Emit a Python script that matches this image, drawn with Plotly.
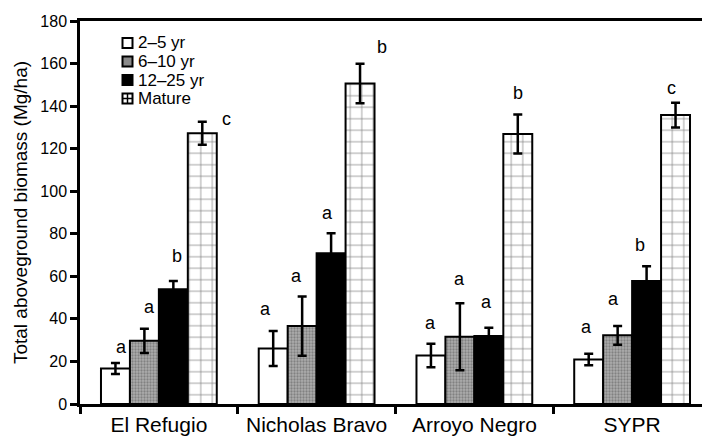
import plotly.graph_objects as go

# ---- data ----
sites = ["El Refugio", "Nicholas Bravo", "Arroyo Negro", "SYPR"]
series_names = ["2–5 yr", "6–10 yr", "12–25 yr", "Mature"]

biomass_2_5 = [16.7, 26.1, 22.8, 20.9]
err_2_5 = [2.6, 8.2, 5.5, 2.7]
biomass_6_10 = [29.7, 36.6, 31.6, 32.3]
err_6_10 = [5.7, 13.9, 15.7, 4.4]
biomass_12_25 = [53.9, 70.8, 32.0, 57.8]
err_12_25 = [3.9, 9.4, 3.8, 6.9]
biomass_mature = [127.2, 150.6, 126.9, 135.8]
err_mature = [5.4, 9.3, 9.2, 5.8]

letters_2_5 = ["a", "a", "a", "a"]
letters_6_10 = ["a", "a", "a", "a"]
letters_12_25 = ["b", "a", "a", "b"]
letters_mature = ["c", "b", "b", "c"]

y_ticks = [0, 20, 40, 60, 80, 100, 120, 140, 160, 180]

# ---- style ----
FONT = "Liberation Sans, Arial, sans-serif"
values = [biomass_2_5, biomass_6_10, biomass_12_25, biomass_mature]
errors = [err_2_5, err_6_10, err_12_25, err_mature]
letters = [letters_2_5, letters_6_10, letters_12_25, letters_mature]

patterns = [
    dict(shape="", bgcolor="white"),
    dict(shape=".", fgcolor="#555555", bgcolor="#adadad", size=3, solidity=0.45),
    dict(shape="", bgcolor="black"),
    dict(shape="+", fgcolor="black", bgcolor="white", size=11.5, solidity=0.12),
]
colors = ["white", "#8a8a8a", "black", "white"]

# label nudges (px) per series per site: (dx, dy)
label_nudge = [
    [(6, 16), (-8, 22), (0, 21), (-2, 27)],
    [(5, 22), (-6, 21), (0, 24), (-4, 27)],
    [(4, 25), (-4, 20), (-2, 26), (-7, 21)],
    [(24, 3), (22, 17), (0, 21), (-4, 15)],
]

W, H = 702, 438
M_L, M_R, M_T, M_B = 80, 0, 21, 34
plot_w = W - M_L - M_R
plot_h = H - M_T - M_B

fig = go.Figure()
for i, name in enumerate(series_names):
    fig.add_trace(go.Bar(
        x=sites, y=values[i], name=name, showlegend=False,
        marker=dict(color=colors[i], pattern=patterns[i],
                    line=dict(color="black", width=2)),
        error_y=dict(type="data", array=errors[i], visible=True,
                     color="black", thickness=2.5, width=4.5),
    ))

x_min, x_max = -0.5, 3.443
cat_px = plot_w / (x_max - x_min)
bargap = 0.266
bar_w = cat_px * (1 - bargap) / 4

annotations = []
for i in range(4):
    off = (i - 1.5) * bar_w
    for j, site in enumerate(sites):
        dx, dy = label_nudge[i][j]
        annotations.append(dict(
            x=site, y=values[i][j] + errors[i][j], text=letters[i][j],
            xref="x", yref="y", showarrow=False,
            xshift=off + dx, yshift=dy,
            font=dict(family=FONT, size=18, color="black"),
            xanchor="center", yanchor="middle",
        ))

# ---- hand-drawn legend (paper coordinates from pixel layout) ----
def px_x(p):
    return (p - M_L) / plot_w

def px_y(p):
    return (H - M_B - p) / plot_h

shapes = []
leg_box_x = 122.5
leg_box = 10
leg_text_x = 136
leg_rows = [43, 61.5, 80, 98.5]
box_fill = ["white", "#8a8a8a", "black", "white"]
for k, name in enumerate(series_names):
    cy = leg_rows[k]
    x0, x1 = leg_box_x, leg_box_x + leg_box
    y0, y1 = cy - leg_box / 2, cy + leg_box / 2
    shapes.append(dict(type="rect", xref="paper", yref="paper",
                       x0=px_x(x0), x1=px_x(x1), y0=px_y(y1), y1=px_y(y0),
                       fillcolor=box_fill[k], line=dict(color="black", width=2),
                       layer="above"))
    if name == "Mature":
        mx = (x0 + x1) / 2
        shapes.append(dict(type="line", xref="paper", yref="paper",
                           x0=px_x(mx), x1=px_x(mx), y0=px_y(y1), y1=px_y(y0),
                           line=dict(color="black", width=1.5), layer="above"))
        shapes.append(dict(type="line", xref="paper", yref="paper",
                           x0=px_x(x0), x1=px_x(x1), y0=px_y(cy), y1=px_y(cy),
                           line=dict(color="black", width=1.5), layer="above"))
    annotations.append(dict(
        x=px_x(leg_text_x), y=px_y(cy), xref="paper", yref="paper",
        text=name, showarrow=False, xanchor="left", yanchor="middle",
        font=dict(family=FONT, size=17, color="black"),
    ))

fig.update_layout(
    width=W, height=H,
    margin=dict(l=M_L, r=M_R, t=M_T, b=M_B, autoexpand=False),
    paper_bgcolor="white", plot_bgcolor="white",
    barmode="group", bargap=bargap, bargroupgap=0,
    font=dict(family=FONT, size=16, color="black"),
    showlegend=False,
    annotations=annotations,
    shapes=shapes,
)

fig.update_xaxes(
    type="category", range=[x_min, x_max], automargin=False,
    showline=True, linecolor="black", linewidth=2.5, mirror=True,
    ticks="outside", tickson="boundaries", ticklen=7, tickwidth=2.5, tickcolor="black",
    tickfont=dict(family=FONT, size=21, color="black"),
    showgrid=False, zeroline=False,
)
fig.update_yaxes(
    range=[0, 180], tickvals=y_ticks, automargin=False,
    showline=True, linecolor="black", linewidth=2.5,
    ticks="outside", ticklen=7, tickwidth=2.5, tickcolor="black",
    tickfont=dict(family=FONT, size=16, color="black"),
    showgrid=False, zeroline=False,
    title=dict(text="Total aboveground biomass (Mg/ha)",
               font=dict(family=FONT, size=19, color="black"), standoff=8),
)

fig.write_html("out.html", config={"displayModeBar": False},
               post_script="document.body.style.margin='0';")
